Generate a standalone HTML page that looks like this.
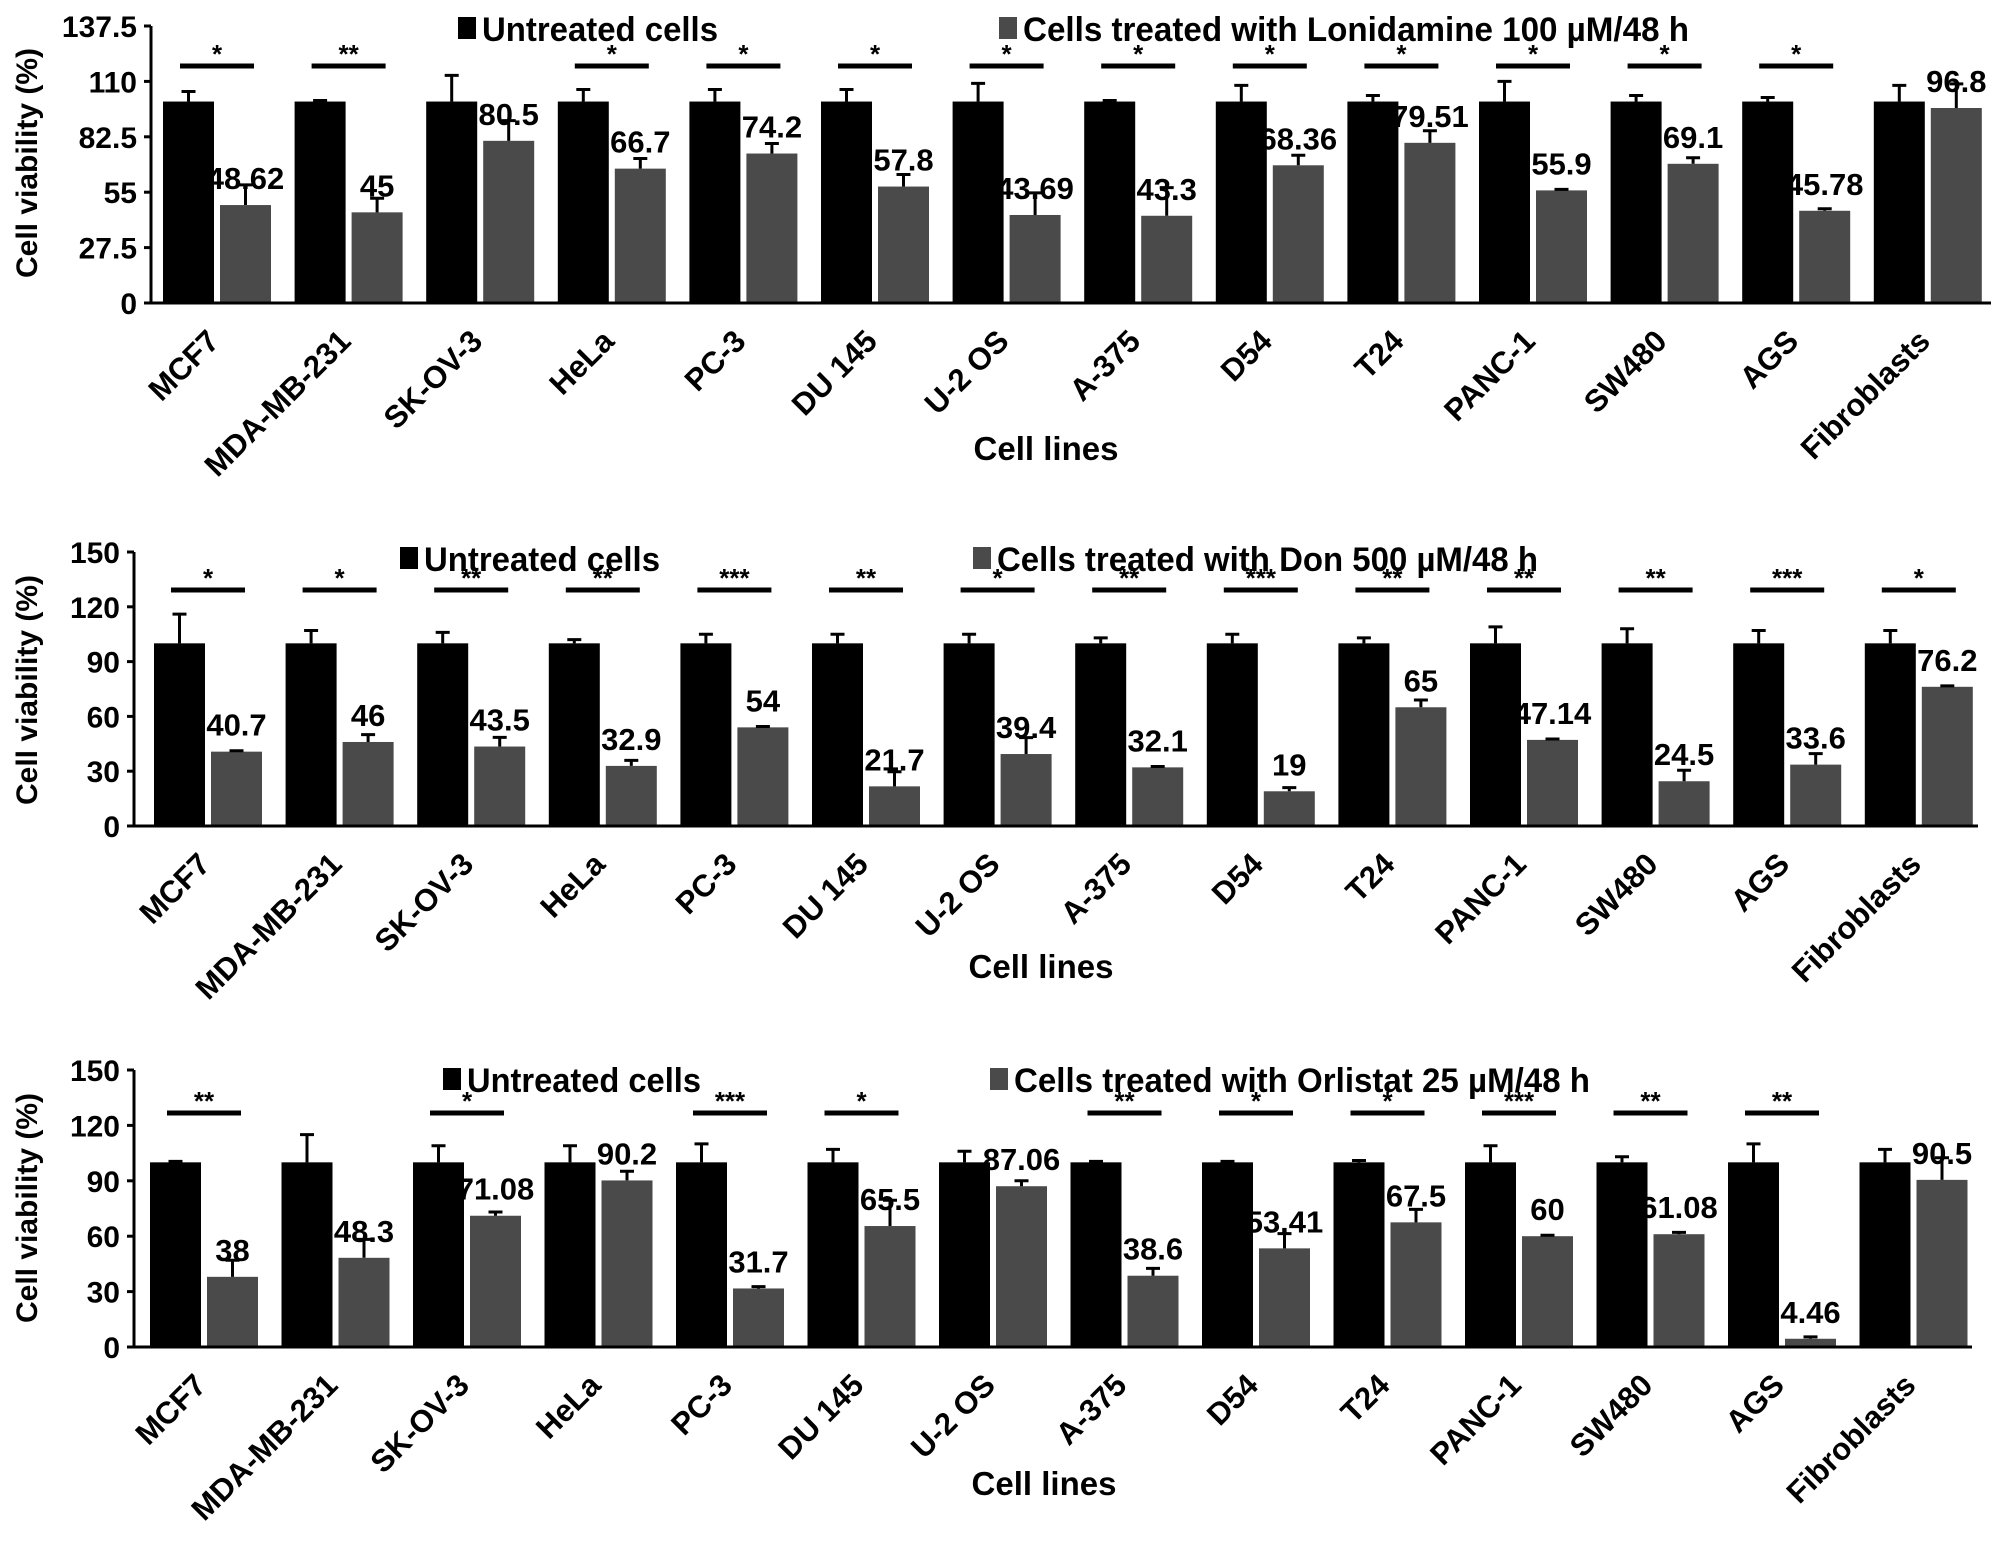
<!DOCTYPE html>
<html><head><meta charset="utf-8"><style>
html,body{margin:0;padding:0;background:#fff}
svg{display:block}
text{font-family:"Liberation Sans",sans-serif;font-weight:bold;fill:#000}
</style></head><body>
<svg id="fig" width="2008" height="1545" viewBox="0 0 2008 1545" xmlns="http://www.w3.org/2000/svg"></svg>
<script>
const categories = ["MCF7","MDA-MB-231","SK-OV-3","HeLa","PC-3","DU 145","U-2 OS","A-375","D54","T24","PANC-1","SW480","AGS","Fibroblasts"];
const untreated = [100,100,100,100,100,100,100,100,100,100,100,100,100,100];
const lonValues = [48.62,45,80.5,66.7,74.2,57.8,43.69,43.3,68.36,79.51,55.9,69.1,45.78,96.8];
const lonLabels = ["48.62","45","80.5","66.7","74.2","57.8","43.69","43.3","68.36","79.51","55.9","69.1","45.78","96.8"];
const lonErr = [10,7,10,5,5,6,11,14,5,6,0.5,3,1,12];
const lonUntErr = [5,0.5,13,6,6,6,9,0.5,8,3,10,3,2,8];
const lonSig = ["*","**","","*","*","*","*","*","*","*","*","*","*",""];
const lonTicks = [0,27.5,55,82.5,110,137.5];
const donValues = [40.7,46,43.5,32.9,54,21.7,39.4,32.1,19,65,47.14,24.5,33.6,76.2];
const donLabels = ["40.7","46","43.5","32.9","54","21.7","39.4","32.1","19","65","47.14","24.5","33.6","76.2"];
const donErr = [0.5,4,5,3,0.5,8,9,0.5,2,4,0.5,6,6,0.5];
const donUntErr = [16,7,6,2,5,5,5,3,5,3,9,8,7,7];
const donSig = ["*","*","**","**","***","**","*","**","***","**","**","**","***","*"];
const orlValues = [38,48.3,71.08,90.2,31.7,65.5,87.06,38.6,53.41,67.5,60,61.08,4.46,90.5];
const orlLabels = ["38","48.3","71.08","90.2","31.7","65.5","87.06","38.6","53.41","67.5","60","61.08","4.46","90.5"];
const orlErr = [9,10,2,5,1,14,3,4,8,7,0.5,1,1,12];
const orlUntErr = [0.5,15,9,9,10,7,6,0.5,0.5,1,9,3,10,7];
const orlSig = ["**","","*","","***","*","","**","*","*","***","**","**",""];
const ticks150 = [0,30,60,90,120,150];

const NS="http://www.w3.org/2000/svg";
const svg=document.getElementById('fig');
function mk(tag,attrs,parent,txt){const e=document.createElementNS(NS,tag);for(const k in attrs)e.setAttribute(k,attrs[k]);if(txt!==undefined)e.textContent=txt;(parent||svg).appendChild(e);return e;}

function drawChart(c){
  const g=mk('g',{});
  
  
  const yMax=c.ticks[c.ticks.length-1];
  const y=v=>c.zeroY-(v/yMax)*(c.zeroY-c.topY);
  const bx=i=>c.first+i*c.step;
  categories.forEach((cat,i)=>{
    const x0=bx(i), x1=x0+c.bw+c.gap;
    const b=mk('rect',{x:x0,y:y(untreated[i]),width:c.bw,height:c.zeroY-y(untreated[i]),fill:'#000'},g);
    
    
    const e1=mk('path',{d:`M${x0+c.bw/2} ${y(untreated[i])}V${y(untreated[i]+c.uerr[i])}M${x0+c.bw/2-7} ${y(untreated[i]+c.uerr[i])}H${x0+c.bw/2+7}`,stroke:'#000','stroke-width':3,fill:'none'},g);
    
    
    const b2=mk('rect',{x:x1,y:y(c.vals[i]),width:c.bw,height:c.zeroY-y(c.vals[i]),fill:'#4a4a4a'},g);
    
    
    const e2=mk('path',{d:`M${x1+c.bw/2} ${y(c.vals[i])}V${y(c.vals[i]+c.err[i])}M${x1+c.bw/2-7} ${y(c.vals[i]+c.err[i])}H${x1+c.bw/2+7}`,stroke:'#000','stroke-width':3,fill:'none'},g);
    
    
    const vl=mk('text',{x:x1+c.bw/2,y:y(c.vals[i])-16,'text-anchor':'middle','font-size':31},g,c.labels[i]);
    
    
    const cx=x0+c.bw+c.gap/2;
    if(c.sig[i]){
      const sl=mk('rect',{x:cx-37,y:c.sigY-2.5,width:74,height:5,fill:'#000'},g);
      
      
      const st=mk('text',{x:cx,y:c.sigY-3,'text-anchor':'middle','font-size':26},g,c.sig[i]);
      
      
    }
    const ax0=cx+4, ay0=c.zeroY+40;
    const xl=mk('text',{x:ax0,y:ay0,'text-anchor':'end','font-size':31,transform:`rotate(-45 ${ax0} ${ay0})`},g,cat);
    
    
  });
  const ax=mk('path',{d:`M${c.axisX} ${c.topY}V${c.zeroY}H${c.right}`,stroke:'#000','stroke-width':3,fill:'none'},g);
  
  
  c.ticks.forEach((t,k)=>{
    const tk=mk('path',{d:`M${c.axisX-7} ${y(t)}H${c.axisX}`,stroke:'#000','stroke-width':3},g);
    
    
    const tl=mk('text',{x:c.axisX-14,y:y(t)+11,'text-anchor':'end','font-size':30},g,String(t));
    
    
  });
  const yt=mk('text',{x:0,y:0,'text-anchor':'middle','font-size':30,transform:`translate(37 ${c.yTitleY}) rotate(-90)`},g,'Cell viability (%)');
  
  
  const xt=mk('text',{x:c.xTitleX,y:c.xTitleY,'text-anchor':'middle','font-size':33},g,'Cell lines');
  
  
  const l1=mk('rect',{x:c.leg1,y:c.legY-11,width:18,height:22,fill:'#000'},g);
  
  
  const lt1=mk('text',{x:c.leg1+24,y:c.legY+13,'font-size':34,textLength:c.legW1,lengthAdjust:'spacingAndGlyphs'},g,'Untreated cells');
  
  
  const l2=mk('rect',{x:c.leg2,y:c.legY-11,width:18,height:22,fill:'#4a4a4a'},g);
  
  
  const lt2=mk('text',{x:c.leg2+24,y:c.legY+13,'font-size':34,textLength:c.legW2,lengthAdjust:'spacingAndGlyphs'},g,c.legText);
  
  
}

drawChart({name:'chart-lonidamine',vals:lonValues,labels:lonLabels,err:lonErr,uerr:lonUntErr,sig:lonSig,ticks:lonTicks,
  axisX:151,zeroY:303,topY:26,first:163,step:131.6,bw:51,gap:6,right:1991,sigY:66,legY:28,leg1:458,leg2:999,legW1:236,legW2:666,
  legText:'Cells treated with Lonidamine 100 µM/48 h',xTitleX:1046,xTitleY:460,yTitleY:163});
drawChart({name:'chart-don',vals:donValues,labels:donLabels,err:donErr,uerr:donUntErr,sig:donSig,ticks:ticks150,
  axisX:134,zeroY:826,topY:552,first:154,step:131.6,bw:51,gap:6,right:1978,sigY:590,legY:558,leg1:400,leg2:973,legW1:236,legW2:541,
  legText:'Cells treated with Don 500 µM/48 h',xTitleX:1041,xTitleY:978,yTitleY:690});
drawChart({name:'chart-orlistat',vals:orlValues,labels:orlLabels,err:orlErr,uerr:orlUntErr,sig:orlSig,ticks:ticks150,
  axisX:134,zeroY:1347,topY:1070,first:150,step:131.5,bw:51,gap:6,right:1972,sigY:1113,legY:1079,leg1:443,leg2:990,legW1:234,legW2:576,
  legText:'Cells treated with Orlistat 25 µM/48 h',xTitleX:1044,xTitleY:1495,yTitleY:1208});
</script>
</body></html>
